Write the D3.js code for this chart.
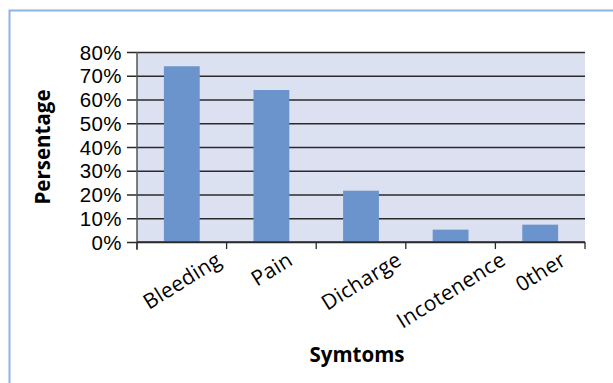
<!DOCTYPE html>
<html>
<head>
<meta charset="utf-8">
<script src="https://cdn.jsdelivr.net/npm/d3@7"></script>
<style>
  html, body { margin: 0; padding: 0; background: #fff; overflow: hidden; }
  svg { display: block; font-family: "Open Sans", "Noto Sans", sans-serif; }
</style>
</head>
<body>
<svg id="chart" width="613" height="383"></svg>
<script>
// Symptom frequencies (percent of patients)
const categories = ["Bleeding", "Pain", "Dicharge", "Incotenence", "0ther"];
const percentages = [74, 64, 21.6, 5.2, 7.3];
const yTicks = [0, 10, 20, 30, 40, 50, 60, 70, 80];
const xTitle = "Symtoms";
const yTitle = "Persentage";

const svg = d3.select("#chart");
const plot = { left: 137, right: 585, top: 52, bottom: 242 };

// Outer chart frame (continues past right and bottom edges)
svg.append("rect")
  .attr("x", 9.5).attr("y", 10.5)
  .attr("width", 640).attr("height", 420)
  .attr("fill", "#fff")
  .attr("stroke", "#8eb4e3")
  .attr("stroke-width", 2);

const x = d3.scaleBand()
  .domain(categories)
  .range([plot.left, plot.right])
  .paddingInner(0.6)
  .paddingOuter(0.3);

const y = d3.scaleLinear()
  .domain([0, 80])
  .range([plot.bottom, plot.top]);

// Plot area background
svg.append("rect")
  .attr("x", plot.left).attr("y", plot.top)
  .attr("width", plot.right - plot.left)
  .attr("height", plot.bottom - plot.top)
  .attr("fill", "#dce1f2");

// Horizontal gridlines with outward ticks
const yAxis = svg.append("g")
  .attr("transform", `translate(${plot.left},0)`)
  .call(d3.axisLeft(y)
    .tickValues(yTicks)
    .tickSize(-(plot.right - plot.left))
    .tickSizeOuter(0)
    .tickPadding(15)
    .tickFormat(d => d + "%"));
yAxis.select(".domain").remove();
yAxis.selectAll(".tick line")
  .attr("x1", -10)
  .attr("stroke", "#2a2a2a")
  .attr("stroke-width", 1.3);
yAxis.selectAll(".tick text")
  .attr("fill", "#000")
  .attr("font-size", 20.5)
  .attr("letter-spacing", "0.4px")
  .attr("dy", "0.35em");

// Bars
svg.append("g")
  .selectAll("rect")
  .data(categories)
  .join("rect")
  .attr("x", d => x(d))
  .attr("width", x.bandwidth())
  .attr("y", (d, i) => y(percentages[i]))
  .attr("height", (d, i) => plot.bottom - y(percentages[i]))
  .attr("fill", "#6b94cd");

// Vertical axis line
svg.append("line")
  .attr("x1", plot.left).attr("x2", plot.left)
  .attr("y1", plot.top).attr("y2", plot.bottom + 8)
  .attr("stroke", "#555").attr("stroke-width", 1.5);

// Category axis with ticks between categories
const boundaries = d3.range(categories.length + 1)
  .map(i => plot.left + i * (plot.right - plot.left) / categories.length);
svg.append("line")
  .attr("x1", plot.left).attr("x2", plot.right)
  .attr("y1", plot.bottom).attr("y2", plot.bottom)
  .attr("stroke", "#2a2a2a").attr("stroke-width", 1.5);
svg.append("g")
  .selectAll("line")
  .data(boundaries)
  .join("line")
  .attr("x1", d => d).attr("x2", d => d)
  .attr("y1", plot.bottom).attr("y2", plot.bottom + 7)
  .attr("stroke", "#2a2a2a").attr("stroke-width", 1.3);

// Rotated category labels, rotated box centred under each category
const angle = 32;
const rad = angle * Math.PI / 180;
const labelTop = 248;
const fs = 21;
svg.append("g")
  .selectAll("text")
  .data(categories)
  .join("text")
  .attr("font-size", fs)
  .attr("letter-spacing", "0.3px")
  .attr("text-anchor", "middle")
  .attr("dominant-baseline", "central")
  .text(d => d)
  .each(function(d) {
    const w = this.getComputedTextLength();
    const h = fs * 1.0;
    const rotH = w * Math.sin(rad) + h * Math.cos(rad);
    const cx = x(d) + x.bandwidth() / 2;
    const cy = labelTop + rotH / 2;
    d3.select(this)
      .attr("x", 0).attr("y", 0)
      .attr("transform", `translate(${cx},${cy}) rotate(${-angle})`);
  });

// Axis titles
svg.append("text")
  .attr("x", 357)
  .attr("y", 362)
  .attr("text-anchor", "middle")
  .attr("font-size", 20.5)
  .attr("font-weight", "bold")
  .text(xTitle);

svg.append("text")
  .attr("transform", `translate(50,147) rotate(-90)`)
  .attr("text-anchor", "middle")
  .attr("font-size", 20.5)
  .attr("font-weight", "bold")
  .text(yTitle);
</script>
</body>
</html>
